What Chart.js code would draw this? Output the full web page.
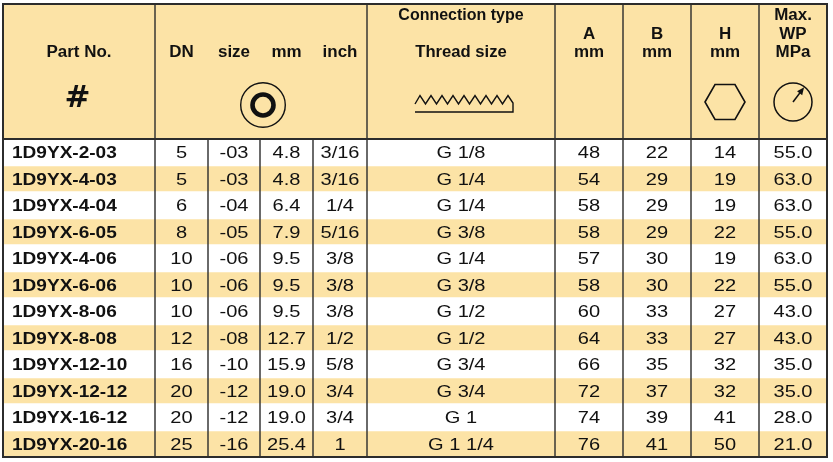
<!DOCTYPE html>
<html>
<head>
<meta charset="utf-8">
<title>1D9YX</title>
<script src="https://cdn.jsdelivr.net/npm/chart.js@4/dist/chart.umd.min.js"></script>
<style>
  html, body { margin: 0; padding: 0; background: #fff; }
  #wrap { width: 833px; height: 462px; position: relative; }
</style>
</head>
<body>
<div id="wrap"><canvas id="specTable"></canvas></div>
<script>
// --- table values ---
const partNos = ['1D9YX-2-03', '1D9YX-4-03', '1D9YX-4-04', '1D9YX-6-05', '1D9YX-4-06', '1D9YX-6-06',
                 '1D9YX-8-06', '1D9YX-8-08', '1D9YX-12-10', '1D9YX-12-12', '1D9YX-16-12', '1D9YX-20-16'];
const dnValues = [5, 5, 6, 8, 10, 10, 10, 12, 16, 20, 20, 25];
const dashSizes = ['-03', '-03', '-04', '-05', '-06', '-06', '-06', '-08', '-10', '-12', '-12', '-16'];
const mmValues = [4.8, 4.8, 6.4, 7.9, 9.5, 9.5, 9.5, 12.7, 15.9, 19.0, 19.0, 25.4];
const inchSizes = ['3/16', '3/16', '1/4', '5/16', '3/8', '3/8', '3/8', '1/2', '5/8', '3/4', '3/4', '1'];
const threadSizes = ['G 1/8', 'G 1/4', 'G 1/4', 'G 3/8', 'G 1/4', 'G 3/8', 'G 1/2', 'G 1/2', 'G 3/4', 'G 3/4', 'G 1', 'G 1 1/4'];
const aValues = [48, 54, 58, 58, 57, 58, 60, 64, 66, 72, 74, 76];
const bValues = [22, 29, 29, 29, 30, 30, 33, 33, 35, 37, 39, 41];
const hValues = [14, 19, 19, 22, 19, 22, 27, 27, 32, 32, 41, 50];
const wpValues = [55.0, 63.0, 63.0, 55.0, 63.0, 55.0, 43.0, 43.0, 35.0, 35.0, 28.0, 21.0];

// --- layout (hidden axes run in page units) ---
const COL_EDGES = [3, 155, 208, 260, 313, 367, 555, 623, 691, 759, 827];
const TABLE_TOP = 4;
const BODY_TOP = 139;
const ROW_H = 26.5;
const YELLOW = '#FCE3A6';
const INK = '#111111';
const RULE = '#2c2c2c';
const FONT = '"Liberation Sans", Arial, sans-serif';

const columns = [
    partNos,
    dnValues,
    dashSizes,
    mmValues.map(v => v.toFixed(1)),
    inchSizes,
    threadSizes,
    aValues,
    bValues,
    hValues,
    wpValues.map(v => v.toFixed(1))
];

// yellow stripes on every second row, as floating bars
const stripes = partNos
    .map((p, i) => ({ x: [COL_EDGES[0], COL_EDGES[COL_EDGES.length - 1]], y: BODY_TOP + ROW_H * (i + 0.5), odd: i % 2 === 1 }))
    .filter(d => d.odd);

function colCenter(j) { return (COL_EDGES[j] + COL_EDGES[j + 1]) / 2; }

function text(ctx, s, px, py, font, align, sx) {
    ctx.save();
    ctx.translate(px, py);
    ctx.scale(sx || 1, 1);
    ctx.font = font;
    ctx.fillStyle = INK;
    ctx.textAlign = align || 'center';
    ctx.textBaseline = 'middle';
    ctx.fillText(s, 0, 0);
    ctx.restore();
}

const tablePlugin = {
    id: 'specTable',
    beforeDatasetsDraw(chart) {
        const { ctx, scales: { x, y } } = chart;
        ctx.save();
        ctx.fillStyle = YELLOW;
        ctx.fillRect(x.getPixelForValue(COL_EDGES[0]), y.getPixelForValue(TABLE_TOP),
            x.getPixelForValue(COL_EDGES[10]) - x.getPixelForValue(COL_EDGES[0]),
            y.getPixelForValue(BODY_TOP) - y.getPixelForValue(TABLE_TOP));
        ctx.restore();
    },
    afterDatasetsDraw(chart) {
        const { ctx, scales: { x, y } } = chart;
        const X = v => x.getPixelForValue(v);
        const Y = v => y.getPixelForValue(v);
        const bottom = BODY_TOP + ROW_H * partNos.length;

        // body cells
        columns.forEach((col, j) => {
            col.forEach((val, i) => {
                const cy = Y(BODY_TOP + ROW_H * (i + 0.5)) + 1.5;
                if (j === 0) {
                    text(ctx, String(val), X(COL_EDGES[0] + 9), cy, 'bold 17px ' + FONT, 'left', 1.12);
                } else {
                    text(ctx, String(val), X(colCenter(j)), cy, '17px ' + FONT, 'center', 1.18);
                }
            });
        });

        // header labels
        const hb = 'bold 16px ' + FONT;
        text(ctx, 'Part No.', X(colCenter(0)), Y(53), hb, 'center', 1.06);
        text(ctx, '#', X(colCenter(0) - 1.5), Y(99), 'bold 31px "DejaVu Sans", sans-serif', 'center', 1);
        ['DN', 'size', 'mm', 'inch'].forEach((s, k) => text(ctx, s, X(colCenter(k + 1)), Y(53), hb, 'center', 1.06));
        text(ctx, 'Connection type', X(colCenter(5)), Y(15.5), hb, 'center', 1);
        text(ctx, 'Thread size', X(colCenter(5)), Y(53), hb, 'center', 1.04);
        ['A', 'B', 'H'].forEach((s, k) => {
            text(ctx, s, X(colCenter(k + 6)), Y(34.5), hb, 'center', 1.06);
            text(ctx, 'mm', X(colCenter(k + 6)), Y(53), hb, 'center', 1.06);
        });
        text(ctx, 'Max.', X(colCenter(9)), Y(15.5), hb, 'center', 1.06);
        text(ctx, 'WP', X(colCenter(9)), Y(34.5), hb, 'center', 1.06);
        text(ctx, 'MPa', X(colCenter(9)), Y(53), hb, 'center', 1.06);

        ctx.save();
        ctx.strokeStyle = INK;
        ctx.fillStyle = INK;
        ctx.lineJoin = 'miter';

        // size symbol: thin circle with a bold ring
        const cx = X(263), cyc = Y(105);
        ctx.lineWidth = 1.4;
        ctx.beginPath(); ctx.arc(cx, cyc, 22.3, 0, Math.PI * 2); ctx.stroke();
        ctx.lineWidth = 4.6;
        ctx.beginPath(); ctx.arc(cx, cyc, 10.5, 0, Math.PI * 2); ctx.stroke();

        // thread symbol
        ctx.lineWidth = 1.4;
        ctx.beginPath();
        ctx.moveTo(X(415), Y(104));
        for (let k = 0; k < 9; k++) {
            ctx.lineTo(X(420 + 11 * k), Y(95.5));
            if (k < 8) ctx.lineTo(X(425.5 + 11 * k), Y(104));
        }
        ctx.lineTo(X(513), Y(103));
        ctx.lineTo(X(513), Y(112));
        ctx.lineTo(X(415), Y(112));
        ctx.stroke();

        // hexagon
        const hx = X(725), hy = Y(102);
        ctx.lineWidth = 1.6;
        ctx.beginPath();
        [[-20, 0], [-10, -17.5], [10, -17.5], [20, 0], [10, 17.5], [-10, 17.5]].forEach(([dx, dy], k) => {
            if (k === 0) ctx.moveTo(hx + dx, hy + dy); else ctx.lineTo(hx + dx, hy + dy);
        });
        ctx.closePath();
        ctx.stroke();

        // pressure gauge
        const gx = X(793), gy = Y(102), gr = 19;
        ctx.lineWidth = 1.5;
        ctx.beginPath(); ctx.arc(gx, gy, gr, 0, Math.PI * 2); ctx.stroke();
        const ang = -53 * Math.PI / 180;
        const tx = gx + Math.cos(ang) * (gr - 0.5), ty = gy + Math.sin(ang) * (gr - 0.5);
        ctx.lineWidth = 1.6;
        ctx.beginPath(); ctx.moveTo(gx, gy); ctx.lineTo(gx + Math.cos(ang) * (gr - 6), gy + Math.sin(ang) * (gr - 6)); ctx.stroke();
        ctx.beginPath();
        ctx.moveTo(tx, ty);
        const bx = gx + Math.cos(ang) * (gr - 8), by = gy + Math.sin(ang) * (gr - 8);
        const nx = -Math.sin(ang) * 3.2, ny = Math.cos(ang) * 3.2;
        ctx.lineTo(bx + nx, by + ny);
        ctx.lineTo(bx - nx, by - ny);
        ctx.closePath();
        ctx.fill();

        // rules
        ctx.strokeStyle = RULE;
        ctx.lineWidth = 1.4;
        ctx.beginPath();
        COL_EDGES.slice(1, -1).forEach((e, k) => {
            const inner = k >= 1 && k <= 3; // DN..inch split only in the body
            ctx.moveTo(X(e), Y(inner ? BODY_TOP : TABLE_TOP));
            ctx.lineTo(X(e), Y(bottom));
        });
        ctx.stroke();
        ctx.lineWidth = 2;
        ctx.beginPath();
        ctx.moveTo(X(COL_EDGES[0]), Y(BODY_TOP));
        ctx.lineTo(X(COL_EDGES[10]), Y(BODY_TOP));
        ctx.stroke();
        ctx.strokeRect(X(COL_EDGES[0]), Y(TABLE_TOP), X(COL_EDGES[10]) - X(COL_EDGES[0]), Y(bottom) - Y(TABLE_TOP));
        ctx.restore();
    }
};

new Chart(document.getElementById('specTable').getContext('2d'), {
    type: 'bar',
    data: {
        datasets: [{
            label: 'stripes',
            data: stripes,
            backgroundColor: YELLOW,
            borderWidth: 0,
            categoryPercentage: 0.5,
            barPercentage: 1.0
        }]
    },
    options: {
        indexAxis: 'y',
        responsive: true,
        maintainAspectRatio: false,
        animation: false,
        events: [],
        layout: { padding: 0 },
        scales: {
            x: { type: 'linear', min: 0, max: 833, display: false, offset: false },
            y: { type: 'linear', min: 0, max: 462, reverse: true, display: false, offset: false }
        },
        plugins: {
            legend: { display: false },
            tooltip: { enabled: false }
        }
    },
    plugins: [tablePlugin]
});
</script>
</body>
</html>
